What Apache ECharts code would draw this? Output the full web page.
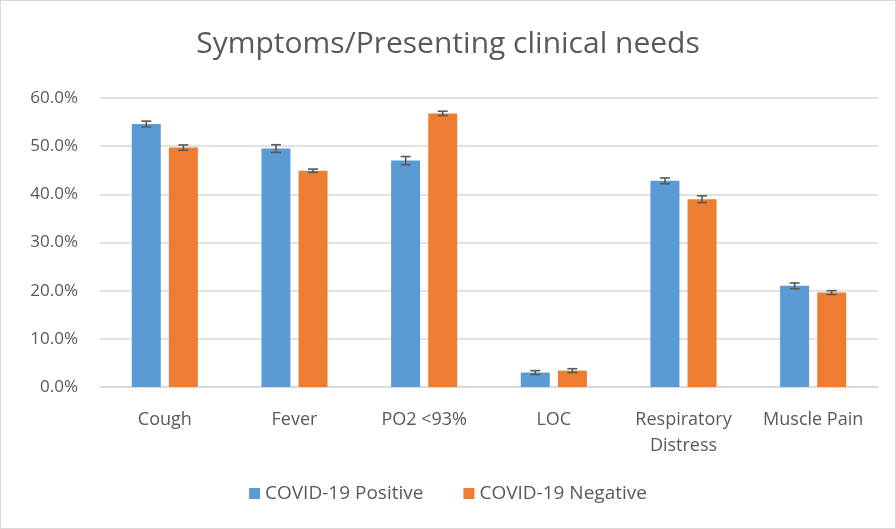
<!DOCTYPE html>
<html>
<head>
<meta charset="utf-8">
<script src="https://cdn.jsdelivr.net/npm/echarts@6/dist/echarts.min.js"></script>
<style>
html, body { margin: 0; padding: 0; background: #fff; }
#chart { width: 894px; height: 527px; border: 1px solid #d9d9d9; }
</style>
</head>
<body>
<div id="chart"></div>
<script>
// values (percent)
var categories = ['Cough', 'Fever', 'PO2 <93%', 'LOC', 'Respiratory\nDistress', 'Muscle Pain'];
var positive = [54.6, 49.5, 47.0, 3.0, 42.8, 21.0];
var negative = [49.7, 44.9, 56.8, 3.4, 39.0, 19.6];
var positiveErr = [0.6, 0.8, 0.85, 0.4, 0.6, 0.6];
var negativeErr = [0.55, 0.35, 0.45, 0.4, 0.7, 0.4];
var yTicks = [0, 10, 20, 30, 40, 50, 60];

var barW = 29;
var halfGap = 3.5;

function errorSeries(name, vals, errs, offset) {
    var data = [];
    for (var i = 0; i < vals.length; i++) {
        data.push([i, vals[i] - errs[i], vals[i] + errs[i]]);
    }
    return {
        name: name,
        type: 'custom',
        z: 10,
        silent: true,
        data: data,
        renderItem: function (params, api) {
            var lo = api.coord([api.value(0), api.value(1)]);
            var hi = api.coord([api.value(0), api.value(2)]);
            var x = lo[0] + offset;
            var cap = 5;
            var st = { stroke: '#595959', lineWidth: 1.6 };
            return {
                type: 'group',
                children: [
                    { type: 'line', shape: { x1: x, y1: lo[1], x2: x, y2: hi[1] }, style: st },
                    { type: 'line', shape: { x1: x - cap, y1: lo[1], x2: x + cap, y2: lo[1] }, style: st },
                    { type: 'line', shape: { x1: x - cap, y1: hi[1], x2: x + cap, y2: hi[1] }, style: st }
                ]
            };
        }
    };
}

var myChart = echarts.init(document.getElementById('chart'));
var option = {
    animation: false,
    textStyle: { fontFamily: '"Open Sans", sans-serif' },
    title: {
        text: 'Symptoms/Presenting clinical needs',
        left: 'center',
        top: 23,
        textStyle: { color: '#595959', fontSize: 30, fontWeight: 'normal', fontFamily: '"Open Sans", sans-serif' }
    },
    legend: {
        bottom: 20,
        left: 'center',
        itemWidth: 11,
        itemHeight: 11,
        itemGap: 40,
        icon: 'rect',
        textStyle: { color: '#595959', fontSize: 19 },
        data: ['COVID-19 Positive', 'COVID-19 Negative']
    },
    grid: { left: 99, right: 17, top: 97, bottom: 141 },
    xAxis: {
        type: 'category',
        data: categories,
        axisTick: { show: false },
        axisLine: { lineStyle: { color: '#d9d9d9', width: 1.5 } },
        axisLabel: { color: '#595959', fontSize: 18, margin: 20, lineHeight: 26, interval: 0 }
    },
    yAxis: {
        type: 'value',
        min: yTicks[0],
        max: yTicks[yTicks.length - 1],
        interval: 10,
        axisLine: { show: false },
        axisTick: { show: false },
        splitLine: { lineStyle: { color: '#d9d9d9', width: 1.5 } },
        axisLabel: {
            color: '#595959',
            fontSize: 17,
            margin: 22,
            formatter: function (v) { return v.toFixed(1) + '%'; }
        }
    },
    series: [
        {
            name: 'COVID-19 Positive',
            type: 'bar',
            barWidth: barW,
            barGap: '28%',
            itemStyle: { color: '#5b9bd5' },
            data: positive
        },
        {
            name: 'COVID-19 Negative',
            type: 'bar',
            barWidth: barW,
            itemStyle: { color: '#ed7d31' },
            data: negative
        },
        errorSeries('errPos', positive, positiveErr, -(barW / 2 + halfGap + 0.5)),
        errorSeries('errNeg', negative, negativeErr, barW / 2 + halfGap + 0.5)
    ]
};
myChart.setOption(option, true);
</script>
</body>
</html>
